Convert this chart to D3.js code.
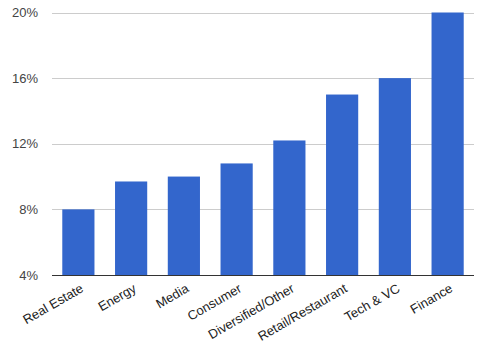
<!DOCTYPE html>
<html><head><meta charset="utf-8">
<script src="https://cdn.jsdelivr.net/npm/d3@7"></script>
<style>body{margin:0;background:#fff}svg{display:block}text{font-family:Arial,"Liberation Sans",sans-serif}</style>
</head><body><svg id="c" width="485" height="349"></svg>
<script>
const categories = ["Real Estate","Energy","Media","Consumer","Diversified/Other","Retail/Restaurant","Tech & VC","Finance"];
const values = [8, 9.7, 10, 10.8, 12.2, 15, 16, 20];
const yTicks = [4, 8, 12, 16, 20];

const W = 485, H = 349;
const m = {left: 52, right: 11, top: 12.5, bottom: 74};
const svg = d3.select("#c");
const x = d3.scaleBand().domain(categories).range([m.left, W - m.right]).paddingInner(0.39).paddingOuter(0.195);
const y = d3.scaleLinear().domain([4, 20]).range([H - m.bottom, m.top]);

const yAxis = d3.axisLeft(y).tickValues(yTicks).tickFormat(d => d + "%").tickSize(-(W - m.left - m.right)).tickPadding(14);
const gy = svg.append("g").attr("transform", `translate(${m.left},0)`).call(yAxis);
gy.select(".domain").remove();
gy.selectAll(".tick line").attr("stroke", "#ccc").attr("shape-rendering", "crispEdges");
gy.selectAll(".tick text").attr("fill", "#444").attr("font-size", "13px");

svg.append("g").selectAll("rect").data(categories).join("rect")
  .attr("x", d => x(d)).attr("width", x.bandwidth())
  .attr("y", (d, i) => y(values[i])).attr("height", (d, i) => y(4) - y(values[i]))
  .attr("fill", "#3366cc");

const xAxis = d3.axisBottom(x).tickSize(0).tickPadding(0);
const gx = svg.append("g").attr("transform", `translate(0,${y(4)})`).call(xAxis);
gx.select(".domain").attr("stroke", "#333").attr("d", `M${m.left},0.5H${W - m.right}`);
gx.selectAll(".tick text")
  .attr("fill", "#222").attr("font-size", "13px")
  .attr("text-anchor", "end")
  .attr("dy", null)
  .attr("transform", "translate(6,16) rotate(-30)");
</script></body></html>
